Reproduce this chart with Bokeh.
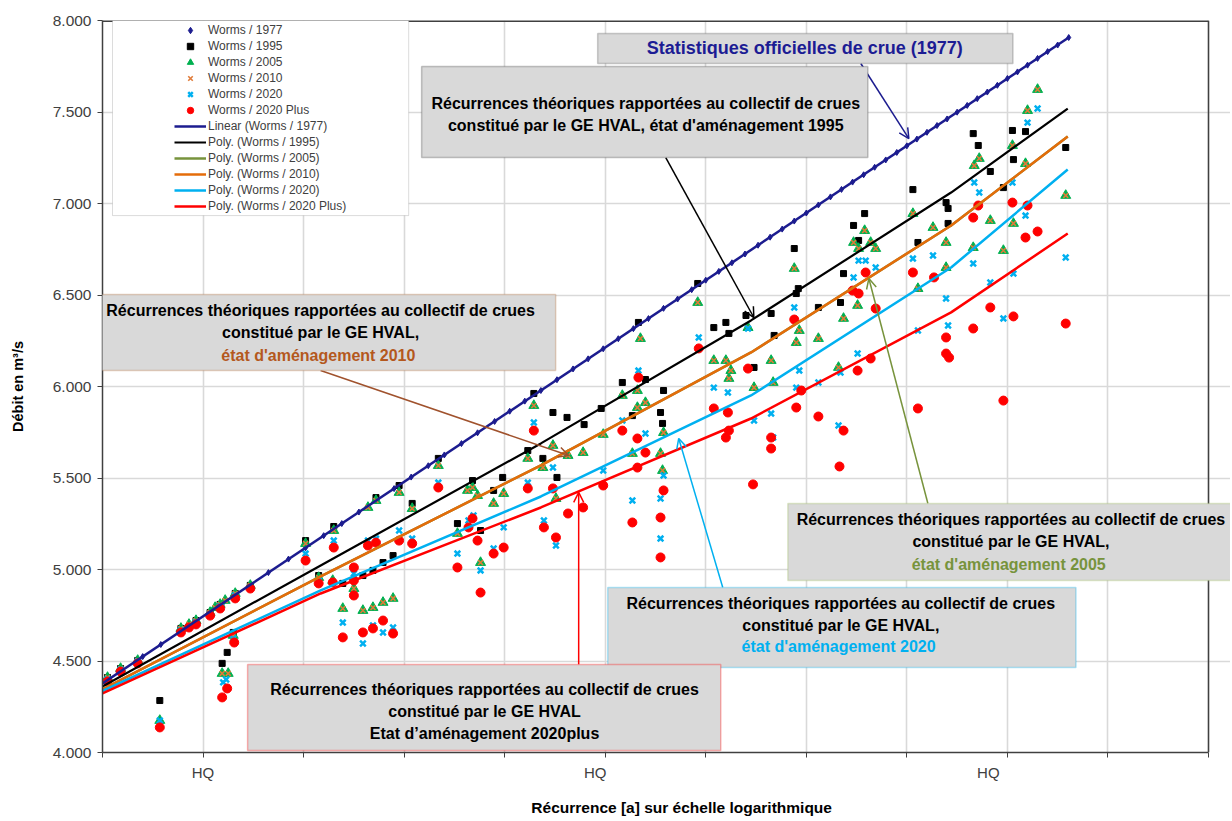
from bokeh.plotting import figure
from bokeh.models import (Range1d, FixedTicker, Legend, LegendItem, BoxAnnotation,
                          Label, Arrow, OpenHead, LinearAxis, Span)
from bokeh.embed import file_html
from bokeh.resources import INLINE

FONT = "Liberation Sans"

# ---------------- data (x = position on the recurrence axis, y = discharge m3/s)
x_1977 = [0.03, 0.2, 0.4, 0.58, 0.77, 0.92, 1.08, 1.2, 1.32, 1.47, 1.65, 1.85, 2.02, 2.2, 2.38,
          2.55, 2.72, 2.9, 3.07, 3.24, 3.4, 3.57, 3.73, 3.9, 4.05, 4.2, 4.36, 4.52, 4.68, 4.83,
          4.98, 5.13, 5.28, 5.43, 5.58, 5.72, 5.86, 6.0, 6.13, 6.26, 6.39, 6.52, 6.64, 6.76,
          6.88, 7.0, 7.12, 7.24, 7.35, 7.46, 7.57, 7.68, 7.79, 7.9, 8.0, 8.1, 8.2, 8.3, 8.4,
          8.5, 8.6, 8.7, 8.8, 8.9, 9.0, 9.1, 9.2, 9.3, 9.4, 9.5, 9.61]
y_1977 = [4388, 4450, 4524, 4590, 4660, 4715, 4774, 4818, 4862, 4917, 4983, 5057, 5119, 5185, 5251,
          5314, 5376, 5442, 5505, 5567, 5626, 5688, 5747, 5809, 5865, 5920, 5978, 6037, 6096, 6151,
          6206, 6261, 6316, 6371, 6427, 6478, 6529, 6581, 6629, 6676, 6724, 6772, 6816, 6860,
          6904, 6948, 6992, 7036, 7077, 7117, 7157, 7198, 7238, 7279, 7315, 7352, 7389, 7426, 7462,
          7499, 7536, 7573, 7609, 7646, 7683, 7719, 7756, 7793, 7830, 7866, 7907]

x_1995 = [0.05, 0.18, 0.35, 0.57, 0.78, 0.93, 1.07, 1.17, 1.32, 1.47, 1.19, 1.24, 1.30, 2.02, 2.15,
          2.30, 2.39, 2.59, 2.69, 2.72, 2.79, 2.89, 2.95, 3.08, 3.34, 3.53, 3.68, 3.76, 3.89, 3.98,
          4.23, 4.29, 4.38, 4.48, 4.52, 4.62, 4.79, 4.96, 5.17, 5.27, 5.33, 5.40, 5.55, 5.57, 5.58,
          5.92, 6.08, 6.20, 6.23, 6.40, 6.48, 6.65, 6.68, 6.88, 6.92, 6.90, 7.12, 7.34, 7.37, 7.47,
          7.52, 7.58, 8.06, 8.11, 8.39, 8.41, 8.41, 8.66, 8.71, 8.83, 8.96, 9.05, 9.06, 9.18, 9.58]
y_1995 = [4410, 4459, 4503, 4284, 4678, 4721, 4765, 4809, 4869, 4913, 4487, 4547, 4656, 5158, 4967,
          5235, 4924, 4967, 4995, 5393, 5038, 5076, 5459, 5361, 5607, 5251, 5486, 5213, 5432, 5503,
          5650, 5962, 5607, 5858, 5503, 5831, 5792, 5880, 6022, 5841, 6350, 6038, 5858, 5798, 5978,
          6563, 6322, 6350, 6290, 6388, 6104, 6399, 6279, 6754, 6535, 6508, 6432, 6459, 6617, 6880,
          6798, 6945, 7076, 6787, 7005, 6973, 6891, 7382, 7317, 7175, 7087, 7399, 7240, 7393, 7306]

x_2005 = [0.05, 0.18, 0.35, 0.57, 0.78, 0.86, 0.93, 1.07, 1.12, 1.17, 1.22, 1.32, 1.47, 1.19, 1.25,
          1.30, 2.02, 2.15, 2.29, 2.30, 2.39, 2.50, 2.59, 2.64, 2.69, 2.72, 2.79, 2.89, 2.95, 3.08,
          3.34, 3.53, 3.63, 3.68, 3.73, 3.76, 3.89, 3.99, 4.23, 4.29, 4.38, 4.48, 4.51, 4.63, 4.78,
          4.98, 5.17, 5.27, 5.35, 5.32, 5.32, 5.40, 5.55, 5.57, 5.58, 5.92, 6.08, 6.20, 6.23, 6.25,
          6.42, 6.48, 6.65, 6.67, 6.88, 6.93, 6.90, 7.12, 7.37, 7.32, 7.47, 7.52, 7.51, 7.58, 7.64,
          7.69, 8.06, 8.11, 8.26, 8.39, 8.39, 8.67, 8.72, 8.83, 8.66, 8.96, 9.05, 9.06, 9.18, 9.20,
          9.30, 9.58]
y_2005 = [4410, 4459, 4503, 4175, 4678, 4700, 4721, 4765, 4792, 4809, 4831, 4869, 4913, 4432, 4432,
          4640, 5142, 4956, 4940, 5213, 4787, 4896, 4776, 5339, 4792, 5377, 4820, 4842, 5421, 5333,
          5568, 5197, 5432, 5448, 5404, 5038, 5361, 5415, 5607, 5896, 5557, 5678, 5388, 5623, 5639,
          5738, 5951, 5634, 6262, 5978, 5885, 5912, 5634, 5541, 5748, 6459, 6142, 6142, 6044, 6087,
          6322, 5994, 6142, 6022, 6645, 6306, 6240, 6262, 6372, 6104, 6787, 6754, 6443, 6852, 6787,
          6754, 6945, 6535, 6869, 6787, 6650, 7207, 7246, 6907, 6759, 6743, 7317, 6891, 7218, 7508,
          7623, 7044]

# Worms / 2010 markers sit exactly on the 2005 markers in the picture
x_2010 = list(x_2005)
y_2010 = list(y_2005)

x_2020 = [0.05, 0.18, 0.35, 0.57, 0.78, 0.93, 1.07, 1.17, 1.32, 1.47, 1.20, 1.23, 1.30, 2.02, 2.15,
          2.30, 2.39, 2.50, 2.59, 2.64, 2.69, 2.72, 2.79, 2.89, 2.95, 3.08, 3.34, 3.53, 3.64, 3.69,
          3.76, 3.89, 3.99, 4.23, 4.29, 4.39, 4.48, 4.51, 4.98, 5.17, 5.27, 5.33, 5.40, 5.55, 5.55,
          5.58, 5.93, 6.08, 6.22, 6.42, 6.48, 6.65, 6.67, 6.88, 6.93, 6.90, 7.12, 7.34, 7.32, 7.47,
          7.52, 7.51, 7.59, 7.69, 8.06, 8.11, 8.26, 8.39, 8.41, 8.67, 8.72, 8.83, 8.66, 8.96, 9.05,
          9.06, 9.18, 9.20, 9.30, 9.58]
y_2020 = [4399, 4453, 4497, 4175, 4667, 4710, 4754, 4798, 4858, 4902, 4383, 4399, 4623, 5087, 4940,
          5158, 4710, 4978, 4596, 5158, 4694, 5169, 4656, 4683, 5213, 5169, 5475, 5087, 5268, 5295,
          4995, 5115, 5230, 5475, 5803, 5268, 5557, 5131, 5541, 5814, 5377, 6087, 5743, 5388, 5169,
          5514, 6268, 5994, 5967, 6317, 5814, 5852, 5721, 6432, 6087, 5994, 6022, 6076, 5787, 6596,
          6688, 6180, 6688, 6650, 6699, 6306, 6716, 6481, 6333, 7115, 7060, 6568, 6672, 6372, 7115,
          6617, 6934, 7442, 7519, 6705]

x_2020p = [0.05, 0.18, 0.35, 0.57, 0.78, 0.86, 0.93, 1.07, 1.17, 1.32, 1.47, 1.19, 1.24, 1.31, 2.02,
           2.15, 2.29, 2.30, 2.39, 2.50, 2.50, 2.50, 2.59, 2.64, 2.69, 2.72, 2.79, 2.89, 2.95, 3.08,
           3.34, 3.53, 3.68, 3.64, 3.73, 3.76, 3.89, 3.99, 4.23, 4.29, 4.39, 4.48, 4.51, 4.63, 4.78,
           4.98, 5.17, 5.27, 5.33, 5.32, 5.32, 5.40, 5.55, 5.55, 5.58, 5.93, 6.08, 6.22, 6.23, 6.20,
           6.42, 6.47, 6.65, 6.65, 6.88, 6.95, 6.90, 7.12, 7.37, 7.33, 7.46, 7.52, 7.51, 7.59, 7.64,
           7.69, 8.06, 8.11, 8.27, 8.39, 8.39, 8.42, 8.66, 8.71, 8.83, 8.66, 8.96, 9.05, 9.06, 9.18,
           9.20, 9.30, 9.58]
y_2020p = [4388, 4442, 4487, 4137, 4656, 4683, 4700, 4748, 4787, 4842, 4896, 4301, 4350, 4601, 5049,
           4924, 4929, 5120, 4629, 5011, 4940, 4858, 4656, 5131, 4678, 5147, 4721, 4650, 5158, 5142,
           5448, 5011, 5279, 5230, 5158, 4874, 5087, 5120, 5443, 5759, 5230, 5443, 5175, 5306, 5339,
           5459, 5759, 5257, 6049, 5716, 5557, 5639, 5284, 5066, 5432, 6208, 5880, 5858, 5759, 5721,
           6098, 5465, 5721, 5661, 6366, 5978, 5885, 5836, 5759, 5563, 6524, 6508, 6087, 6623, 6153,
           6426, 6623, 5880, 6596, 6268, 6180, 6158, 6923, 6989, 6432, 6317, 5923, 7005, 6383, 6814,
           6989, 6847, 6344]

# trend lines
lin_x_1977 = [0.0, 9.61]
lin_y_1977 = [4377, 7907]
trend_x = [0.0, 2.17, 4.36, 6.45, 8.44, 9.60]
trend_1995 = [4361, 5022, 5689, 6361, 7060, 7519]
trend_2005 = [4345, 4962, 5569, 6186, 6880, 7366]
trend_2010 = [4345, 4962, 5569, 6186, 6880, 7366]
trend_2020 = [4336, 4886, 5399, 5951, 6650, 7186]
trend_2020p = [4323, 4869, 5339, 5825, 6405, 6836]

x_ticks = list(range(12))
y_ticks = [4000, 4500, 5000, 5500, 6000, 6500, 7000, 7500, 8000]
y_tick_labels = ["4.000", "4.500", "5.000", "5.500", "6.000", "6.500", "7.000", "7.500", "8.000"]
hq_ticks = [1.0, 4.9, 8.81]
hq_labels = ["HQ", "HQ", "HQ"]
x_title = "Récurrence [a] sur échelle logarithmique"
x_title_pos = 5.76

# ---------------- figure
W, H = 1230, 819
LEFT, TOP, FRAME_W, FRAME_H = 102, 20, 1106, 732
x_end = 11 * (W - LEFT) / FRAME_W   # frame runs to the right edge of the page

p = figure(width=W, height=H, output_backend="svg", toolbar_location=None,
           x_range=Range1d(0, x_end), y_range=Range1d(4000, 8000),
           min_border_left=LEFT, min_border_right=0, min_border_top=TOP,
           min_border_bottom=H - TOP - FRAME_H,
           background_fill_color="white", border_fill_color="white")

p.outline_line_color = None

p.xaxis.ticker = FixedTicker(ticks=x_ticks)
p.xaxis.bounds = (0, 11)
p.xaxis.major_label_overrides = {t: "" for t in x_ticks}
p.xaxis.major_label_text_font_size = "1px"
p.xaxis.major_label_standoff = 0
p.xaxis.minor_tick_line_color = None
p.xaxis.major_tick_in = 0
p.xaxis.major_tick_out = 5
p.xaxis.axis_line_color = "#404040"
p.xaxis.axis_line_width = 1.5
p.xaxis.major_tick_line_color = "#404040"

hq_axis = LinearAxis(ticker=FixedTicker(ticks=hq_ticks),
                     major_label_overrides=dict(zip(hq_ticks, hq_labels)),
                     axis_line_color=None, major_tick_line_color=None,
                     major_tick_in=0, major_tick_out=0,
                     minor_tick_line_color=None, minor_tick_in=0, minor_tick_out=0,
                     major_label_standoff=6,
                     major_label_text_font=FONT, major_label_text_font_size="15px",
                     major_label_text_color="#404040")
p.add_layout(hq_axis, "below")
title_axis = LinearAxis(ticker=FixedTicker(ticks=[x_title_pos]),
                        major_label_overrides={x_title_pos: x_title},
                        axis_line_color=None, major_tick_line_color=None,
                        major_tick_in=0, major_tick_out=0,
                        minor_tick_line_color=None, minor_tick_in=0, minor_tick_out=0,
                        major_label_standoff=15,
                        major_label_text_font=FONT, major_label_text_font_size="15.5px",
                        major_label_text_font_style="bold", major_label_text_color="#000000")
p.add_layout(title_axis, "below")

p.yaxis.ticker = FixedTicker(ticks=y_ticks)
p.yaxis.major_label_overrides = dict(zip(y_ticks, y_tick_labels))
p.yaxis.major_label_text_font = FONT
p.yaxis.major_label_text_font_size = "15.5px"
p.yaxis.major_label_text_color = "#404040"
p.yaxis.major_label_standoff = 6
p.yaxis.minor_tick_line_color = None
p.yaxis.major_tick_in = 0
p.yaxis.major_tick_out = 5
p.yaxis.axis_line_color = "#404040"
p.yaxis.axis_line_width = 1.5
p.yaxis.major_tick_line_color = "#404040"
p.yaxis.axis_label = "Débit en m³/s"
p.yaxis.axis_label_text_font = FONT
p.yaxis.axis_label_text_font_style = "bold"
p.yaxis.axis_label_text_font_size = "14.5px"
p.yaxis.axis_label_text_color = "#000000"
p.yaxis.axis_label_standoff = 24

p.xgrid.ticker = FixedTicker(ticks=x_ticks)
p.ygrid.ticker = FixedTicker(ticks=y_ticks)
p.ygrid.bounds = (0, 11)
p.grid.grid_line_color = "#d9d9d9"
p.grid.grid_line_width = 1.6

# plot-area border (top and right)
p.add_layout(Span(location=11, dimension="height", line_color="#404040", line_width=1.5))
p.line([0, 11], [8000, 8000], line_color="#404040", line_width=3)

# ---------------- markers
r77 = p.scatter(x_1977, y_1977, marker="diamond", size=6, fill_color="#1c1c8f", line_color="#1c1c8f")
r95 = p.scatter(x_1995, y_1995, marker="square", size=6, fill_color="black", line_color="black")
r05 = p.scatter(x_2005, y_2005, marker="triangle", size=10, fill_color="#00b050", line_color="#00b050")
r10 = p.scatter(x_2010, y_2010, marker="x", size=7, line_color="#e07b39", line_width=1.6)
r20 = p.scatter(x_2020, y_2020, marker="x", size=8, line_color="#00b0f0", line_width=2.5)
r20p = p.scatter(x_2020p, y_2020p, marker="circle", size=9, fill_color="#ff0000", line_color="#ff0000")

# ---------------- trend lines
l77 = p.line(lin_x_1977, lin_y_1977, line_color="#1c1c8f", line_width=2.5)
l95 = p.line(trend_x, trend_1995, line_color="#000000", line_width=2.2)
l05 = p.line(trend_x, trend_2005, line_color="#77933c", line_width=2.5)
l10 = p.line(trend_x, trend_2010, line_color="#e46c0a", line_width=2.5)
l20 = p.line(trend_x, trend_2020, line_color="#00b0f0", line_width=2.5)
l20p = p.line(trend_x, trend_2020p, line_color="#ff0000", line_width=2.5)

# ---------------- legend
p.add_layout(BoxAnnotation(left=0.0995, right=3.045, top=8000, bottom=6934,
                           fill_color="white", fill_alpha=1.0,
                           line_color="#8c8c8c", line_width=1))
legend = Legend(items=[
    LegendItem(label="Worms / 1977", renderers=[r77]),
    LegendItem(label="Worms / 1995", renderers=[r95]),
    LegendItem(label="Worms / 2005", renderers=[r05]),
    LegendItem(label="Worms / 2010", renderers=[r10]),
    LegendItem(label="Worms / 2020", renderers=[r20]),
    LegendItem(label="Worms / 2020 Plus", renderers=[r20p]),
    LegendItem(label="Linear (Worms / 1977)", renderers=[l77]),
    LegendItem(label="Poly. (Worms / 1995)", renderers=[l95]),
    LegendItem(label="Poly. (Worms / 2005)", renderers=[l05]),
    LegendItem(label="Poly. (Worms / 2010)", renderers=[l10]),
    LegendItem(label="Poly. (Worms / 2020)", renderers=[l20]),
    LegendItem(label="Poly. (Worms / 2020 Plus)", renderers=[l20p]),
], location=(72, 538), glyph_width=32, glyph_height=16, label_height=16,
   spacing=0, padding=0, margin=0, label_standoff=2,
   label_text_font=FONT, label_text_font_size="12px", label_text_color="#404040",
   background_fill_alpha=0, border_line_alpha=0)
p.add_layout(legend)


def callout(left, right, top, bottom, border):
    p.add_layout(BoxAnnotation(left=left, right=right, top=top, bottom=bottom,
                               fill_color="#d9d9d9", fill_alpha=1.0,
                               line_color=border, line_width=1.5))


def txt(x, y, s, color="#000000", size="16px"):
    p.add_layout(Label(x=x, y=y, text=s, text_align="center", text_baseline="middle",
                       text_font=FONT, text_font_style="bold", text_font_size=size,
                       text_color=color))


def arrow(x0, y0, x1, y1, color):
    p.add_layout(Arrow(end=OpenHead(size=10, line_color=color, line_width=1.5),
                       x_start=x0, y_start=y0, x_end=x1, y_end=y1,
                       line_color=color, line_width=1.5))


L1 = "Récurrences théoriques rapportées au collectif de crues"

# arrows
arrow(7.542, 7765, 8.02, 7355, "#1c1c8f")
arrow(5.602, 7251, 6.478, 6377, "#000000")
arrow(2.169, 6087, 4.637, 5623, "#a0522d")
arrow(8.209, 5361, 7.622, 6590, "#77933c")
arrow(6.169, 4902, 5.731, 5716, "#00b0f0")
arrow(4.736, 4481, 4.736, 5421, "#ff0000")

# 1977
callout(4.925, 9.055, 7929, 7765, "#595959")
txt(6.985, 7847, "Statistiques officielles de crue (1977)", "#1c1c94", "18px")
# 1995
callout(3.174, 7.612, 7748, 7251, "#404040")
txt(5.403, 7546, L1)
txt(5.403, 7426, "constitué par le GE HVAL, état d'aménagement 1995")
# 2010
callout(-0.149, 4.507, 6503, 6087, "#b06a35")
txt(2.169, 6415, L1)
txt(2.169, 6295, "constitué par le GE HVAL,")
txt(2.169, 6169, "état d'aménagement  2010", "#b4581d")
# 2005
callout(6.816, 11.6, 5361, 4940, "#9bbb59")
txt(9.035, 5273, L1)
txt(9.035, 5153, "constitué par le GE HVAL,")
txt(9.035, 5027, "état d'aménagement  2005", "#77933c")
# 2020
callout(5.025, 9.682, 4902, 4465, "#00b0f0")
txt(7.343, 4814, L1)
txt(7.343, 4694, "constitué par le GE HVAL,")
txt(7.343, 4579, "état d'aménagement  2020", "#00b0f0")
# 2020 plus
callout(1.443, 6.149, 4481, 4011, "#ff0000")
txt(3.80, 4344, L1)
txt(3.80, 4224, "constitué par le GE HVAL")
txt(3.80, 4104, "Etat d’aménagement 2020plus")

open("out.html", "w").write(file_html(p, INLINE))
